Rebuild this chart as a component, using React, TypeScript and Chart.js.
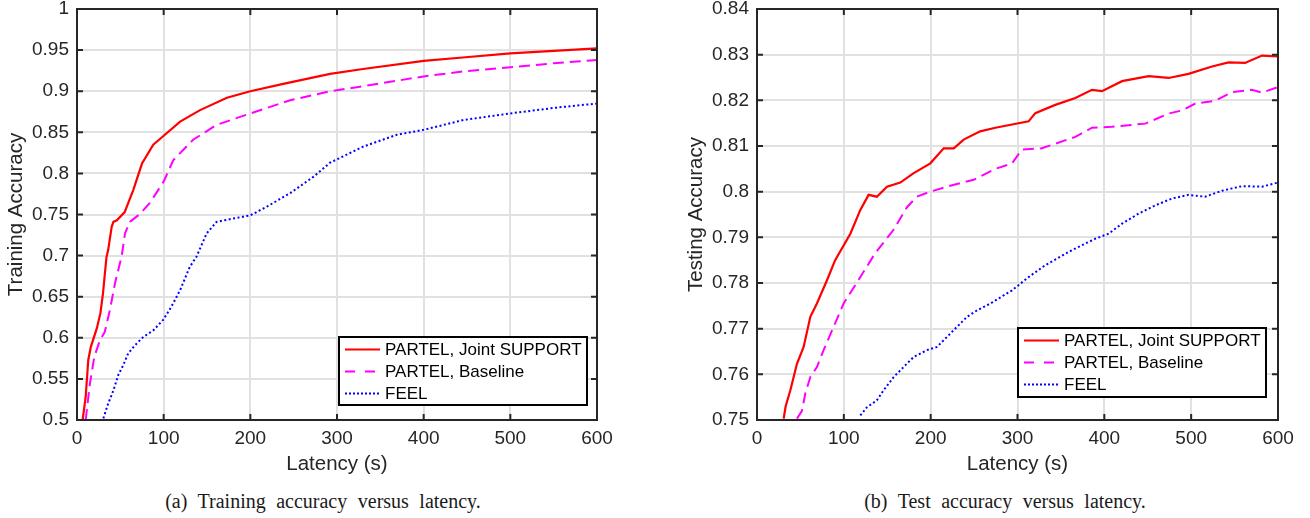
import React, { useEffect, useRef } from "react";
import { Chart, registerables } from "chart.js";

Chart.register(...registerables);

// ---------- data ----------
const xTicks = [0, 100, 200, 300, 400, 500, 600];
const trainYTicks = [0.5, 0.55, 0.6, 0.65, 0.7, 0.75, 0.8, 0.85, 0.9, 0.95, 1];
const testYTicks = [0.75, 0.76, 0.77, 0.78, 0.79, 0.8, 0.81, 0.82, 0.83, 0.84];

const seriesLabels = ["PARTEL, Joint SUPPORT", "PARTEL, Baseline", "FEEL"];

// (a) Training accuracy
const trainJointT = [6.5, 10, 13, 16, 23, 27, 30, 34, 36, 40, 42, 46, 55, 65, 75, 88, 98, 119, 142, 173, 200, 238, 292, 330, 400, 445, 500, 550, 600];
const trainJointV = [0.5, 0.528, 0.573, 0.589, 0.612, 0.63, 0.654, 0.698, 0.707, 0.735, 0.741, 0.743, 0.753, 0.78, 0.812, 0.835, 0.844, 0.863, 0.877, 0.892, 0.9, 0.909, 0.921, 0.927, 0.937, 0.941, 0.946, 0.949, 0.952];

const trainBaseT = [10, 15, 20, 26.5, 32, 38, 44, 51.5, 55.4, 61, 73, 84, 100, 111, 134, 161, 200, 246, 292, 330, 400, 445, 500, 550, 600];
const trainBaseV = [0.5, 0.545, 0.577, 0.597, 0.607, 0.634, 0.667, 0.699, 0.727, 0.741, 0.751, 0.764, 0.79, 0.816, 0.841, 0.859, 0.873, 0.889, 0.9, 0.906, 0.918, 0.924, 0.929, 0.934, 0.938];

const trainFeelT = [30.4, 36, 42, 47.7, 53.5, 59, 67, 76.5, 88, 99.6, 109, 119, 130, 138, 149.6, 161, 180, 200, 219, 246, 273, 292, 330, 369, 400, 446, 500, 553, 600];
const trainFeelV = [0.502, 0.52, 0.536, 0.555, 0.567, 0.581, 0.591, 0.601, 0.609, 0.622, 0.638, 0.658, 0.686, 0.699, 0.727, 0.741, 0.745, 0.749, 0.7595, 0.776, 0.796, 0.813, 0.8325, 0.847, 0.853, 0.865, 0.873, 0.88, 0.885];

// (b) Test accuracy
const testJointT = [30.7, 33, 38.4, 46, 53.7, 61.4, 69, 80.6, 90, 107.5, 119, 128.5, 138, 149.7, 165, 180, 199.6, 215, 226.6, 238, 257, 274.5, 312.8, 320.5, 343.5, 366.6, 385.8, 397.3, 420.4, 451, 474, 497, 524, 543, 562, 581.6, 600];
const testJointV = [0.7503, 0.753, 0.7565, 0.7623, 0.766, 0.7726, 0.7755, 0.7806, 0.785, 0.7908, 0.796, 0.7993, 0.7989, 0.8011, 0.802, 0.804, 0.8062, 0.8095, 0.8095, 0.8114, 0.8132, 0.814, 0.8154, 0.8172, 0.819, 0.8205, 0.8223, 0.822, 0.8242, 0.8253, 0.8249, 0.8258, 0.8274, 0.8283, 0.8282, 0.8298, 0.8296];

const testBaseT = [46, 51.8, 55.6, 61.4, 69, 76.7, 88.2, 99.7, 119, 136, 157, 172.7, 184, 199.6, 218.8, 249.5, 274.4, 293.7, 305, 328, 366.6, 385.8, 408.8, 447, 474, 489.5, 504.8, 527.8, 547, 570, 581.6, 600];
const testBaseV = [0.7503, 0.752, 0.7558, 0.7594, 0.7616, 0.7653, 0.7704, 0.7755, 0.7813, 0.7865, 0.7916, 0.7966, 0.7989, 0.8, 0.8011, 0.8026, 0.805, 0.8062, 0.8092, 0.8095, 0.812, 0.814, 0.8142, 0.8149, 0.8171, 0.8178, 0.8193, 0.8199, 0.8218, 0.8223, 0.8217, 0.8229];

const testFeelT = [119, 126.7, 138, 145.8, 157.4, 168.8, 180.4, 195.8, 207.3, 218.8, 230.3, 241.9, 253.4, 268.7, 293.7, 312.8, 332, 362.8, 389.6, 405, 420.4, 439.5, 458.7, 477.9, 497, 516, 535.5, 558.6, 581.6, 600];
const testFeelV = [0.751, 0.7528, 0.7543, 0.7565, 0.7594, 0.7616, 0.7638, 0.7653, 0.766, 0.7682, 0.7704, 0.7726, 0.774, 0.7755, 0.7784, 0.7813, 0.7839, 0.7872, 0.7897, 0.7908, 0.793, 0.7952, 0.797, 0.7985, 0.7993, 0.7989, 0.8002, 0.8012, 0.8011, 0.802];

// ---------- styles ----------
const SANS = "'Liberation Sans', Arial, Helvetica, sans-serif";
const SERIF = "'Liberation Serif', 'Times New Roman', serif";
const AXIS = "#262626";
const GRID = "#e1e1e1";
const seriesStyles = [
  { color: "#ff0000", dash: [] as number[], legendDash: [] as number[], width: 2.2 },
  { color: "#ff00ff", dash: [11, 6], legendDash: [10, 10], width: 2 },
  { color: "#0000ff", dash: [2, 2.5], legendDash: [2, 2], width: 2 },
];

const pts = (t: number[], v: number[]) => t.map((x, i) => ({ x, y: v[i] }));
const fmt = (v: number) => String(Number(Number(v).toFixed(2)));

const framePlugin = {
  id: "frame",
  afterDatasetsDraw(chart: any) {
    const { ctx, chartArea: a, scales } = chart;
    ctx.save();
    ctx.strokeStyle = AXIS;
    ctx.lineWidth = 2;
    ctx.setLineDash([]);
    const tl = 6;
    ctx.beginPath();
    scales.x.ticks.forEach((t: any) => {
      const px = scales.x.getPixelForValue(t.value);
      ctx.moveTo(px, a.bottom);
      ctx.lineTo(px, a.bottom - tl);
      ctx.moveTo(px, a.top);
      ctx.lineTo(px, a.top + tl);
    });
    scales.y.ticks.forEach((t: any) => {
      const py = scales.y.getPixelForValue(t.value);
      ctx.moveTo(a.left, py);
      ctx.lineTo(a.left + tl, py);
      ctx.moveTo(a.right, py);
      ctx.lineTo(a.right - tl, py);
    });
    ctx.stroke();
    ctx.strokeRect(a.left, a.top, a.right - a.left, a.bottom - a.top);
    ctx.restore();
  },
  afterDraw(chart: any, _args: any, opts: any) {
    const box = opts && opts.box;
    if (!box) return;
    const { ctx } = chart;
    ctx.save();
    ctx.fillStyle = "#ffffff";
    ctx.fillRect(box.left, box.top, box.width, box.height);
    ctx.strokeStyle = "#000000";
    ctx.lineWidth = 2;
    ctx.setLineDash([]);
    ctx.strokeRect(box.left, box.top, box.width, box.height);
    ctx.font = `17px ${SANS}`;
    ctx.textBaseline = "middle";
    ctx.textAlign = "left";
    chart.data.datasets.forEach((ds: any, i: number) => {
      const y = box.top + 12.5 + i * 22;
      ctx.strokeStyle = ds.borderColor;
      ctx.lineWidth = 2;
      ctx.setLineDash(seriesStyles[i].legendDash);
      ctx.beginPath();
      ctx.moveTo(box.left + 6, y);
      ctx.lineTo(box.left + 41, y);
      ctx.stroke();
      ctx.fillStyle = "#000000";
      ctx.fillText(ds.label, box.left + 46, y + 1);
    });
    ctx.restore();
  },
};

type PlotProps = {
  series: { t: number[]; v: number[] }[];
  yTicks: number[];
  yTitle: string;
  rightPad: number;
  legendBox: { left: number; top: number; width: number; height: number };
  width: number;
  height: number;
};

function Plot({ series, yTicks, yTitle, rightPad, legendBox, width, height }: PlotProps) {
  const ref = useRef<HTMLCanvasElement | null>(null);
  useEffect(() => {
    if (!ref.current) return;
    const chart = new Chart(ref.current, {
      type: "line",
      data: {
        datasets: series.map((s, i) => ({
          label: seriesLabels[i],
          data: pts(s.t, s.v),
          borderColor: seriesStyles[i].color,
          backgroundColor: seriesStyles[i].color,
          borderDash: seriesStyles[i].dash,
          borderWidth: seriesStyles[i].width,
          pointRadius: 0,
          tension: 0,
          fill: false,
        })),
      },
      options: {
        animation: false,
        responsive: false,
        devicePixelRatio: 1,
        layout: { padding: { left: 0, top: 9, right: rightPad, bottom: 0 } },
        plugins: {
          legend: { display: false },
          tooltip: { enabled: false },
          frame: { box: legendBox },
        } as any,
        scales: {
          x: {
            type: "linear",
            min: xTicks[0],
            max: xTicks[xTicks.length - 1],
            afterBuildTicks: (s: any) => {
              s.ticks = xTicks.map((value) => ({ value }));
            },
            afterFit: (s: any) => {
              s.height = 60;
              s.paddingLeft = 0;
              s.paddingRight = 0;
            },
            grid: { color: GRID, lineWidth: 2, drawTicks: false },
            border: { display: false },
            ticks: {
              padding: 7,
              color: AXIS,
              font: { family: SANS, size: 19 },
              callback: (v: any) => fmt(v),
              maxRotation: 0,
            },
            title: {
              display: true,
              text: "Latency (s)",
              color: AXIS,
              font: { family: SANS, size: 20.5 },
              padding: { top: 0, bottom: 3.5 },
            },
          },
          y: {
            type: "linear",
            min: yTicks[0],
            max: yTicks[yTicks.length - 1],
            afterBuildTicks: (s: any) => {
              s.ticks = yTicks.map((value) => ({ value }));
            },
            afterFit: (s: any) => {
              s.width = 77;
              s.paddingTop = 0;
              s.paddingBottom = 0;
            },
            grid: { color: GRID, lineWidth: 2, drawTicks: false },
            border: { display: false },
            ticks: {
              padding: 8,
              color: AXIS,
              font: { family: SANS, size: 19 },
              callback: (v: any) => fmt(v),
            },
            title: {
              display: true,
              text: yTitle,
              color: AXIS,
              font: { family: SANS, size: 20.5 },
              padding: { top: 4, bottom: 0 },
            },
          },
        },
      },
      plugins: [framePlugin],
    } as any);
    return () => chart.destroy();
  }, []);
  return <canvas ref={ref} width={width} height={height} style={{ width, height, display: "block" }} />;
}

const captionStyle: React.CSSProperties = {
  position: "absolute",
  top: 490,
  width: 600,
  textAlign: "center",
  fontFamily: SERIF,
  fontSize: 20,
  lineHeight: "23px",
  color: "#1a1a1a",
  wordSpacing: 5.5,
  whiteSpace: "nowrap",
};

export default function App() {
  return (
    <div style={{ position: "fixed", left: 0, top: 0, width: 1310, height: 518, background: "#fff", overflow: "hidden" }}>
      <div style={{ position: "absolute", left: 0, top: 0 }}>
        <Plot
          series={[
            { t: trainJointT, v: trainJointV },
            { t: trainBaseT, v: trainBaseV },
            { t: trainFeelT, v: trainFeelV },
          ]}
          yTicks={trainYTicks}
          yTitle="Training Accuracy"
          rightPad={58}
          legendBox={{ left: 339, top: 337, width: 248, height: 68 }}
          width={655}
          height={480}
        />
      </div>
      <div style={{ position: "absolute", left: 680, top: 0 }}>
        <Plot
          series={[
            { t: testJointT, v: testJointV },
            { t: testBaseT, v: testBaseV },
            { t: testFeelT, v: testFeelV },
          ]}
          yTicks={testYTicks}
          yTitle="Testing Accuracy"
          rightPad={32}
          legendBox={{ left: 338, top: 328, width: 248, height: 69 }}
          width={630}
          height={480}
        />
      </div>
      <div style={{ ...captionStyle, left: 23 }}>(a) Training accuracy versus latency.</div>
      <div style={{ ...captionStyle, left: 705 }}>(b) Test accuracy versus latency.</div>
    </div>
  );
}
